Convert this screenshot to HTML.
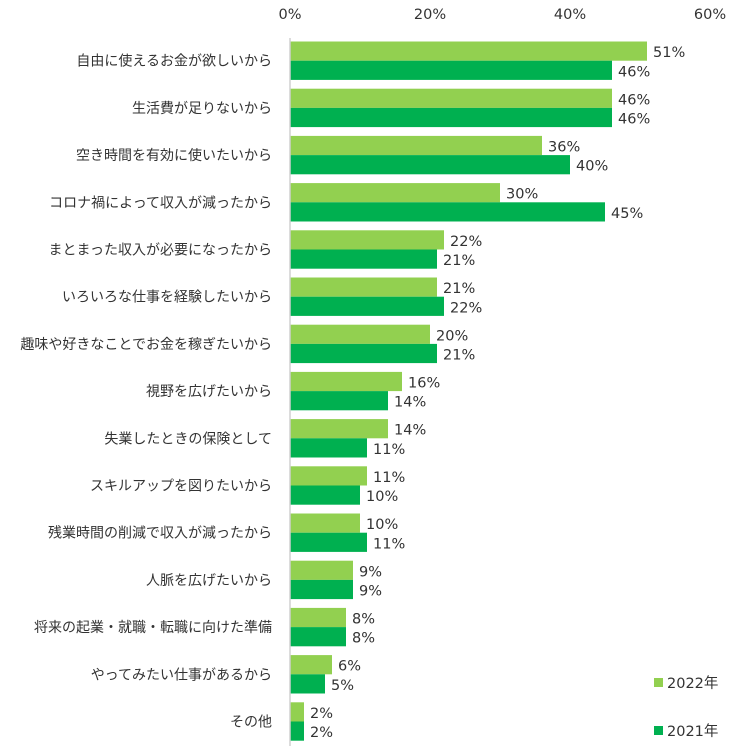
<!DOCTYPE html>
<html><head><meta charset="utf-8"><style>
body{margin:0;background:#fff;}
svg text{font-family:"DejaVu Sans","Noto Sans CJK JP",sans-serif;fill:#333;}
svg text.cat{font-family:"Liberation Sans","Noto Sans CJK JP",sans-serif;}
</style></head><body>
<svg id="chart" width="734" height="748" xmlns="http://www.w3.org/2000/svg"></svg>
<script>
const categories=["自由に使えるお金が欲しいから","生活費が足りないから","空き時間を有効に使いたいから","コロナ禍によって収入が減ったから","まとまった収入が必要になったから","いろいろな仕事を経験したいから","趣味や好きなことでお金を稼ぎたいから","視野を広げたいから","失業したときの保険として","スキルアップを図りたいから","残業時間の削減で収入が減ったから","人脈を広げたいから","将来の起業・就職・転職に向けた準備","やってみたい仕事があるから","その他"];
const values2022=[51,46,36,30,22,21,20,16,14,11,10,9,8,6,2];
const values2021=[46,46,40,45,21,22,21,14,11,10,11,9,8,5,2];
const ticks=[0,20,40,60];
const svg=document.getElementById('chart');
const NS='http://www.w3.org/2000/svg';
const x0=290,pxPer=7.0,top0=41.5,pitch=47.2,bh=19.2;
const xs=v=>x0+v*pxPer;
function mk(t,a,txt){const e=document.createElementNS(NS,t);for(const k in a)e.setAttribute(k,a[k]);if(txt!=null)e.textContent=txt;svg.appendChild(e);return e;}
ticks.forEach(t=>{const e=mk('text',{x:xs(t),y:19,'text-anchor':'middle','font-size':14.5},t+'%');

});
categories.forEach((c,i)=>{
 const y=top0+i*pitch;
 const l=mk('text',{x:272,y:y+bh+5,'text-anchor':'end','font-size':14,'class':'cat'},c);
 
 
 const b1=mk('rect',{x:x0,y:y,width:xs(values2022[i])-x0,height:bh,fill:'#92d050'});
 
 
 const b2=mk('rect',{x:x0,y:y+bh,width:xs(values2021[i])-x0,height:bh,fill:'#00b050'});
 
 
 const v1=mk('text',{x:xs(values2022[i])+6,y:y+bh/2+6,'font-size':14.5},values2022[i]+'%');
 
 
 const v2=mk('text',{x:xs(values2021[i])+6,y:y+bh*1.5+6,'font-size':14.5},values2021[i]+'%');
 
 
});
const ax=mk('line',{x1:x0,y1:38,x2:x0,y2:746,stroke:'#d0d0d0','stroke-width':1.5});


const lg1=mk('rect',{x:654,y:678,width:9,height:9,fill:'#92d050'});


const lt1=mk('text',{x:667,y:688,'font-size':14.5},'2022年');


const lg2=mk('rect',{x:654,y:726,width:9,height:9,fill:'#00b050'});


const lt2=mk('text',{x:667,y:736,'font-size':14.5},'2021年');


</script>
</body></html>
